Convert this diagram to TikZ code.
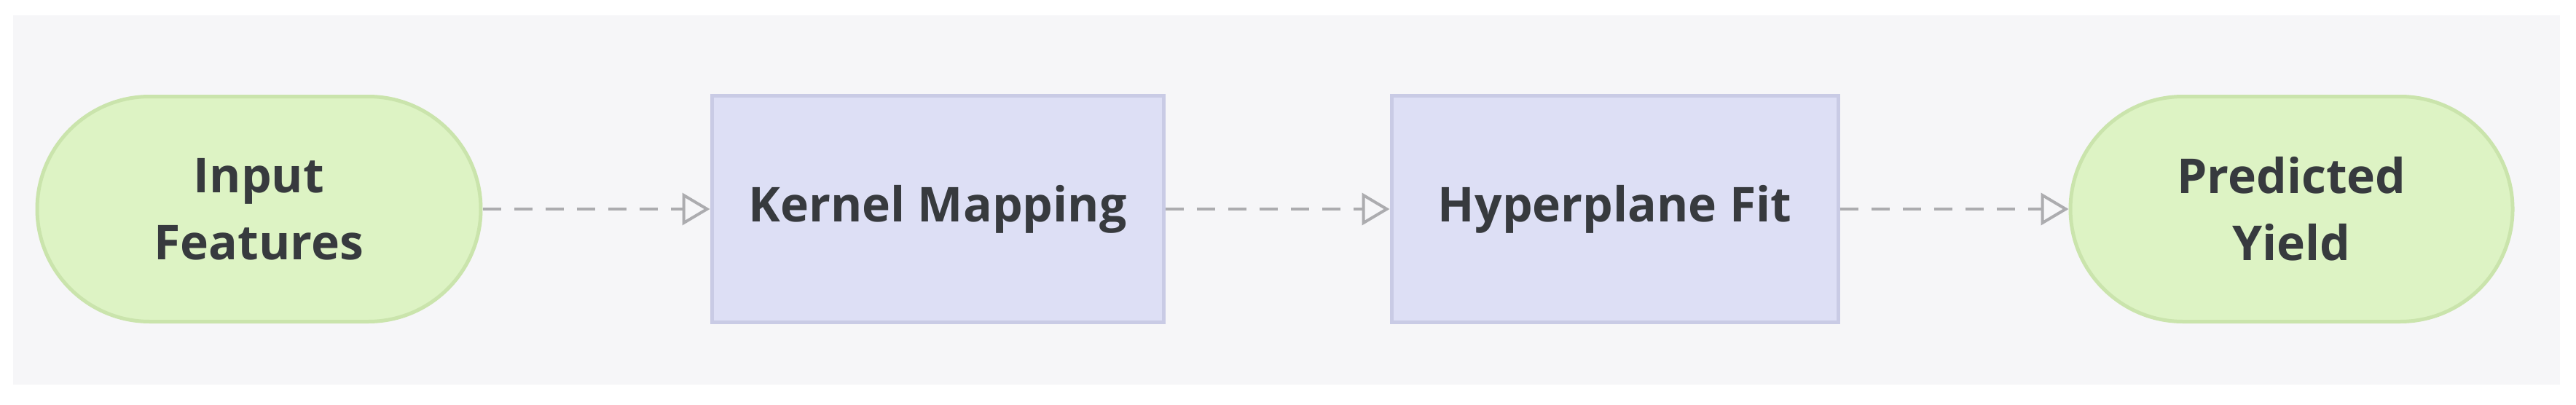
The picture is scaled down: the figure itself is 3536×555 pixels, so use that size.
\documentclass[tikz,border=0pt]{standalone}
\usepackage{fontspec}
\setmainfont{Open Sans}
\usetikzlibrary{shapes.misc,arrows.meta}
\definecolor{bgc}{RGB}{246,246,248}
\definecolor{gfill}{RGB}{221,243,196}
\definecolor{gline}{RGB}{202,228,172}
\definecolor{pfill}{RGB}{221,223,245}
\definecolor{pline}{RGB}{201,203,229}
\definecolor{txt}{RGB}{55,58,62}
\definecolor{arr}{RGB}{172,172,175}
\tikzset{
  base/.style={inner sep=0pt, line width=5pt, text=txt, align=center,
    font=\fontsize{66}{92}\selectfont\bfseries},
  term/.style={base, rounded rectangle, rounded rectangle arc length=180,
    fill=gfill, draw=gline, minimum height=309pt},
  proc/.style={base, rectangle, fill=pfill, draw=pline, minimum height=311pt},
  flow/.style={draw=arr, line width=4.5pt, dash pattern=on 25pt off 18pt,
    -{Triangle[open, length=38pt, width=44pt, line width=4pt]}}
}
\begin{document}
\begin{tikzpicture}[x=1pt,y=-1pt]
\useasboundingbox (0,0) rectangle (3536,555);
\fill[white] (0,0) rectangle (3536,555);
\fill[bgc] (18,21) rectangle (3514,528);
\node[term, minimum width=609pt] (inp) at (355.5,287) {Input\\Features};
\node[proc, minimum width=620pt] (ker) at (1287,287) {Kernel Mapping};
\node[proc, minimum width=613pt] (hyp) at (2216.5,287) {Hyperplane Fit};
\node[term, minimum width=607pt] (out) at (3145.5,287) {Predicted\\Yield};
\draw[flow] (inp) -- (ker);
\draw[flow] (ker) -- (hyp);
\draw[flow] (hyp) -- (out);
\end{tikzpicture}
\end{document}
